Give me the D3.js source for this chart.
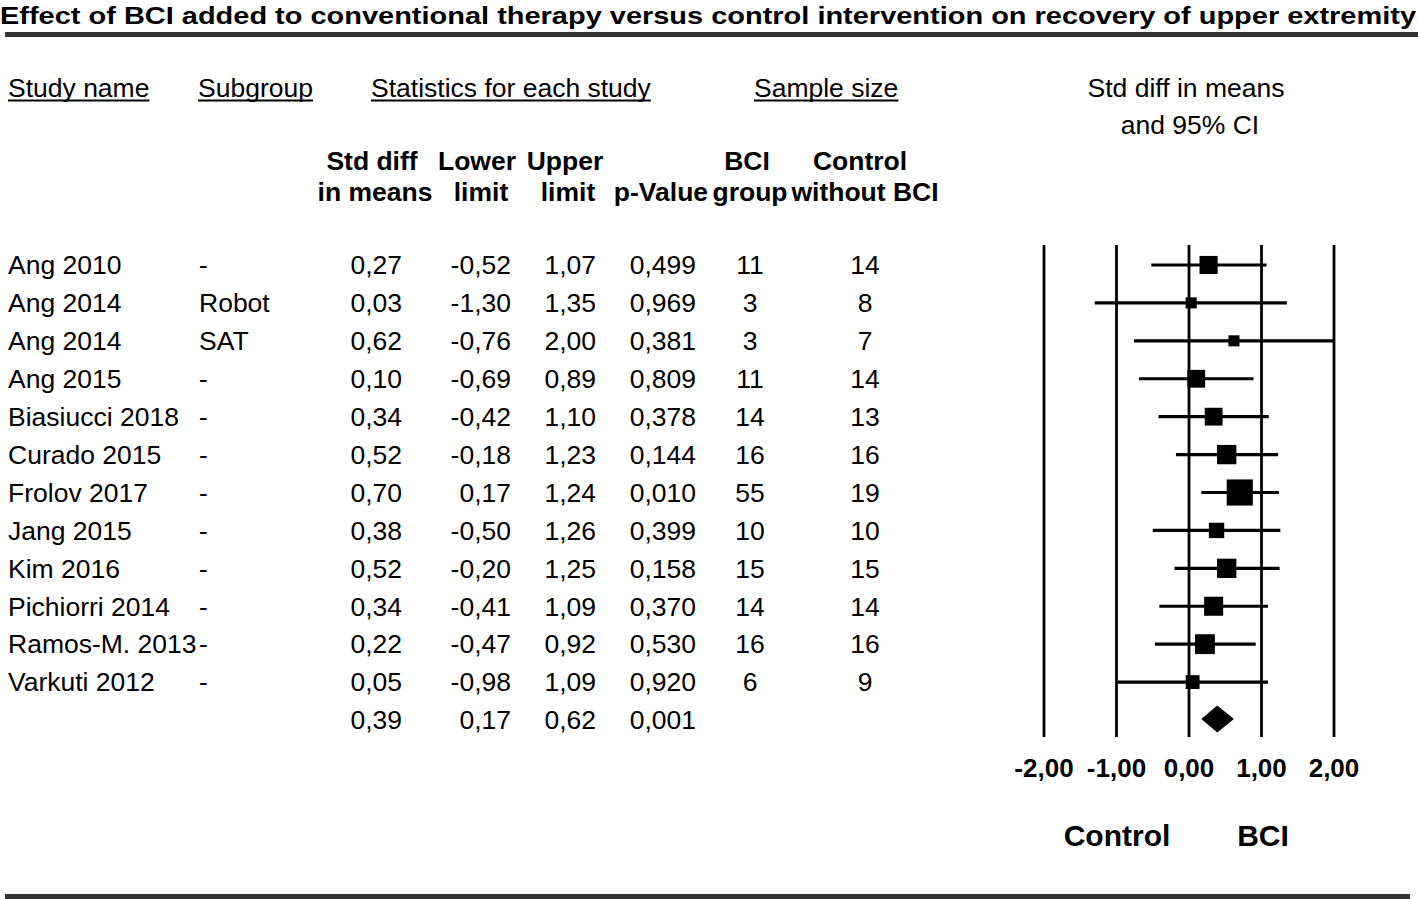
<!DOCTYPE html>
<html><head><meta charset="utf-8">
<script src="https://cdn.jsdelivr.net/npm/d3@7"></script>
<style>
body{margin:0;background:#fff;}
svg{display:block;font-family:"Liberation Sans",Arial,sans-serif;}
</style></head>
<body><svg id="c" width="1418" height="899"></svg>
<script>
const title = "Effect of BCI added to conventional therapy versus control intervention on recovery of upper extremity";
const studies = ["Ang 2010","Ang 2014","Ang 2014","Ang 2015","Biasiucci 2018","Curado 2015","Frolov 2017","Jang 2015","Kim 2016","Pichiorri 2014","Ramos-M. 2013","Varkuti 2012"];
const subgroups = ["-","Robot","SAT","-","-","-","-","-","-","-","-","-"];
const smd   = [0.27,0.03,0.62,0.10,0.34,0.52,0.70,0.38,0.52,0.34,0.22,0.05];
const lower = [-0.52,-1.30,-0.76,-0.69,-0.42,-0.18,0.17,-0.50,-0.20,-0.41,-0.47,-0.98];
const upper = [1.07,1.35,2.00,0.89,1.10,1.23,1.24,1.26,1.25,1.09,0.92,1.09];
const pvals = ["0,499","0,969","0,381","0,809","0,378","0,144","0,010","0,399","0,158","0,370","0,530","0,920"];
const nBCI  = [11,3,3,11,14,16,55,10,15,14,16,6];
const nCtrl = [14,8,7,14,13,16,19,10,15,14,16,9];
const weights = [8.6,3.2,3.2,8.3,8.3,9.8,17.9,6.2,9.8,9.5,10.3,5.0];
const summary = {smd:0.39, lower:0.17, upper:0.62, p:"0,001"};
const ticks = [-2,-1,0,1,2];
const favours = ["Control","BCI"];

const loc = d3.formatLocale({decimal:",",thousands:".",grouping:[3],currency:["",""],minus:"-"});
const f2 = loc.format(".2f");

const svg = d3.select("#c");
const x = d3.scaleLinear().domain([-2,2]).range([1044,1334]);
const rowY = d3.scaleLinear().domain([0,12]).range([265,720]);
const box = d3.scaleSqrt().domain([0,18]).range([0,26.2]);
const FS = 26.5;

// title
svg.append("text").attr("x",0).attr("y",24).attr("font-size",24).attr("font-weight","bold")
  .attr("textLength",1416).attr("lengthAdjust","spacingAndGlyphs").text(title);
svg.append("rect").attr("x",5).attr("y",32).attr("width",1413).attr("height",5).attr("fill","#333");
svg.append("rect").attr("x",5).attr("y",894).attr("width",1405).attr("height",5).attr("fill","#333");

// group headers (underlined)
const gh = [["Study name",8],["Subgroup",198],["Statistics for each study",371],["Sample size",754]];
gh.forEach(([t,x0])=>{
  const tx = svg.append("text").attr("x",x0).attr("y",88).attr("dy","0.35em").attr("font-size",FS).text(t);
  const w = tx.node().getComputedTextLength();
  svg.append("rect").attr("x",x0).attr("y",99.5).attr("width",w).attr("height",2).attr("fill","#000");
});
svg.append("text").attr("x",1186).attr("y",88).attr("dy","0.35em").attr("font-size",FS).attr("text-anchor","middle").text("Std diff in means");
svg.append("text").attr("x",1190).attr("y",125).attr("dy","0.35em").attr("font-size",FS).attr("text-anchor","middle").text("and 95% CI");

// column headers
const ch = [["Std diff",372,161],["in means",375,192],["Lower",477,161],["limit",481,192],["Upper",565,161],["limit",568,192],
            ["p-Value",661,192],["BCI",747,161],["group",750,192],["Control",860,161],["without BCI",865,192]];
ch.forEach(([t,cx,cy])=>{
  svg.append("text").attr("x",cx).attr("y",cy).attr("dy","0.35em").attr("font-size",FS).attr("font-weight","bold")
    .attr("text-anchor","middle").text(t);
});

// rows
const rows = studies.map((s,i)=>({s,sub:subgroups[i],m:smd[i],lo:lower[i],hi:upper[i],p:pvals[i],nb:nBCI[i],nc:nCtrl[i],w:weights[i],i}));
const g = svg.append("g").attr("font-size",FS);
rows.forEach(r=>{
  const y = rowY(r.i);
  const t = (txt,xx,anchor)=>g.append("text").attr("x",xx).attr("y",y).attr("dy","0.35em").attr("text-anchor",anchor).text(txt);
  t(r.s,8,"start");
  t(r.sub,199,"start");
  t(f2(r.m),402,"end");
  t(f2(r.lo),511,"end");
  t(f2(r.hi),596,"end");
  t(r.p,696,"end");
  t(r.nb,750,"middle");
  t(r.nc,865,"middle");
});
{
  const y = rowY(12);
  const t = (txt,xx)=>g.append("text").attr("x",xx).attr("y",y).attr("dy","0.35em").attr("text-anchor","end").text(txt);
  t(f2(summary.smd),402); t(f2(summary.lower),511); t(f2(summary.upper),596); t(summary.p,696);
}

// forest plot
const fp = svg.append("g");
ticks.forEach(v=>{
  fp.append("line").attr("x1",x(v)).attr("x2",x(v)).attr("y1",245).attr("y2",737)
    .attr("stroke","#000").attr("stroke-width",2.8);
});
rows.forEach(r=>{
  const y = rowY(r.i);
  fp.append("line").attr("x1",x(r.lo)).attr("x2",x(r.hi)).attr("y1",y).attr("y2",y)
    .attr("stroke","#000").attr("stroke-width",3.2);
  const s = box(r.w);
  fp.append("rect").attr("x",x(r.m)-s/2).attr("y",y-s/2).attr("width",s).attr("height",s).attr("fill","#000");
});
{
  const y = rowY(12)-1;
  const pts = [[x(summary.lower),y],[x(summary.smd),y-13.5],[x(summary.upper),y],[x(summary.smd),y+13.5]];
  fp.append("path").attr("d",d3.line()(pts)+"Z").attr("fill","#000");
}
// axis labels
ticks.forEach(v=>{
  svg.append("text").attr("x",x(v)).attr("y",768).attr("dy","0.35em").attr("font-size",26).attr("font-weight","bold")
    .attr("text-anchor","middle").text(f2(v));
});
svg.append("text").attr("x",1117).attr("y",835).attr("dy","0.35em").attr("font-size",30).attr("font-weight","bold").attr("text-anchor","middle").text(favours[0]);
svg.append("text").attr("x",1263).attr("y",835).attr("dy","0.35em").attr("font-size",30).attr("font-weight","bold").attr("text-anchor","middle").text(favours[1]);
</script></body></html>
